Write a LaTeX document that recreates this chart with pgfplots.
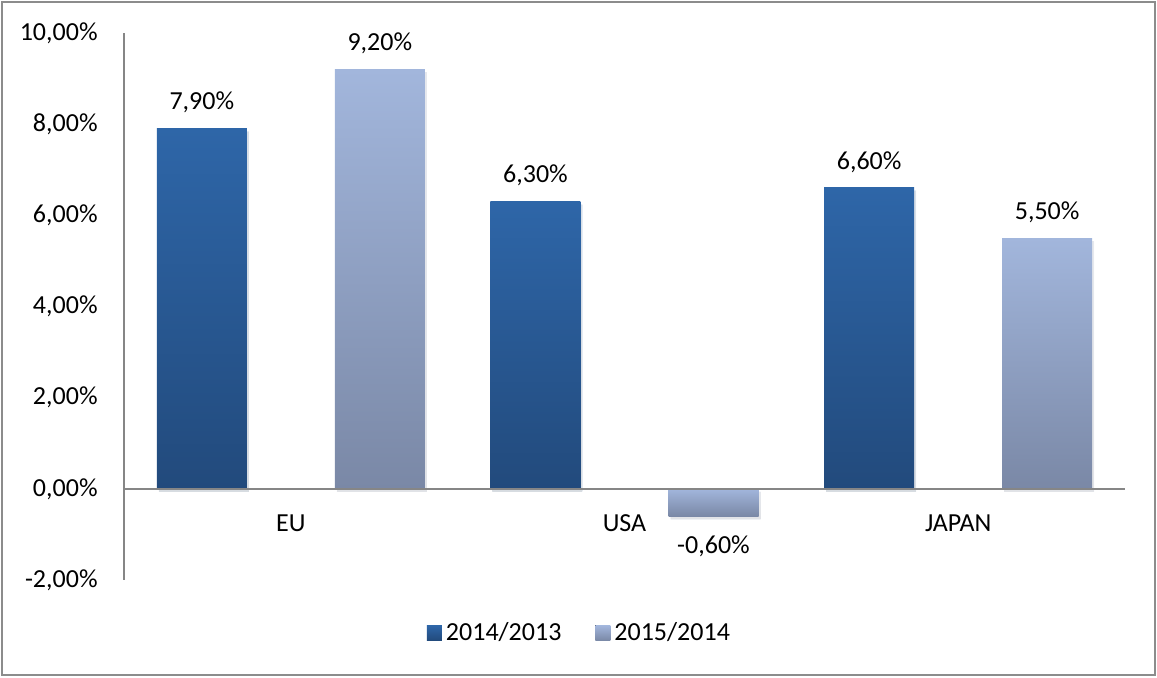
\documentclass[border=0pt]{standalone}
\usepackage{pgfplots}
\pgfplotsset{compat=1.18}
\usetikzlibrary{shadows}
\usepackage{fontspec}
\setmainfont{Carlito}
\definecolor{darkTop}{HTML}{2E66A8}
\definecolor{darkBot}{HTML}{224A7C}
\definecolor{lightTop}{HTML}{A2B6DC}
\definecolor{lightBot}{HTML}{7A88A6}
\definecolor{axisgray}{HTML}{868686}
\definecolor{framegray}{HTML}{8C8C8C}
\pgfplotsset{
  serA/.style={draw=none, top color=darkTop, bottom color=darkBot, bar shift=-44.5pt,
    drop shadow={opacity=0.12, shadow xshift=1pt, shadow yshift=-1.5pt}},
  serB/.style={draw=none, top color=lightTop, bottom color=lightBot, bar shift=44.5pt,
    drop shadow={opacity=0.12, shadow xshift=1pt, shadow yshift=-1.5pt}},
}
\begin{document}
\fontsize{13pt}{15pt}\selectfont
\begin{tikzpicture}
\begin{axis}[
  scale only axis, width=500.5pt, height=273.5pt,
  xmin=-0.5, xmax=2.5, ymin=-2, ymax=10,
  ybar=44pt, bar width=45pt,
  axis line style={draw=none},
  major tick length=0pt, tick style={draw=none},
  xtick={0,1,2}, xticklabels={EU,USA,JAPAN},
  xticklabel style={anchor=center, yshift=28.5pt, font=\fontsize{13pt}{15pt}\selectfont},
  ytick={-2,0,2,4,6,8,10},
  yticklabels={{-2,00\%},{0,00\%},{2,00\%},{4,00\%},{6,00\%},{8,00\%},{10,00\%}},
  yticklabel style={anchor=east, xshift=-13pt, inner sep=0pt, font=\fontsize{13pt}{15pt}\selectfont},
  clip=false,
  point meta=explicit symbolic,
  nodes near coords,
  every node near coord/.append style={font=\fontsize{13pt}{15pt}\selectfont, color=black, inner ysep=7.5pt},
  legend columns=2,
  legend style={draw=none, at={(0.456,-0.0969)}, anchor=center, font=\fontsize{13pt}{15pt}\selectfont,
    /tikz/every even column/.append style={column sep=15pt}},
  legend image code/.code={\fill[#1] (-1.5pt,-3.75pt) rectangle (6pt,3.75pt);},
]
\addlegendimage{draw=none, top color=darkTop, bottom color=darkBot}
\addlegendentry{2014/2013}
\addlegendimage{draw=none, top color=lightTop, bottom color=lightBot}
\addlegendentry{2015/2014}
% 2014/2013
\addplot[serA, forget plot] coordinates {(0,7.9) [7,90\%]};
\addplot[serA, forget plot] coordinates {(1,6.3) [6,30\%]};
\addplot[serA, forget plot] coordinates {(2,6.6) [6,60\%]};
% 2015/2014
\addplot[serB, forget plot] coordinates {(0,9.2) [9,20\%]};
\addplot[serB, forget plot, every node near coord/.append style={anchor=north, inner ysep=9.5pt}]
  coordinates {(1,-0.6) [-0,60\%]};
\addplot[serB, forget plot] coordinates {(2,5.5) [5,50\%]};
\draw[axisgray, line width=0.75pt] (rel axis cs:0,0) -- (rel axis cs:0,1);
\draw[axisgray, line width=0.75pt] (axis cs:-0.5,0) -- (axis cs:2.5,0);
\coordinate (O) at (rel axis cs:0,0);
\end{axis}
\draw[framegray, line width=1pt] ([shift={(-60.75pt,-47.75pt)}]O) rectangle ([shift={(515.25pt,288.75pt)}]O);
\path[use as bounding box] ([shift={(-62pt,-49pt)}]O) rectangle ([shift={(516.5pt,290pt)}]O);
\end{tikzpicture}
\end{document}
